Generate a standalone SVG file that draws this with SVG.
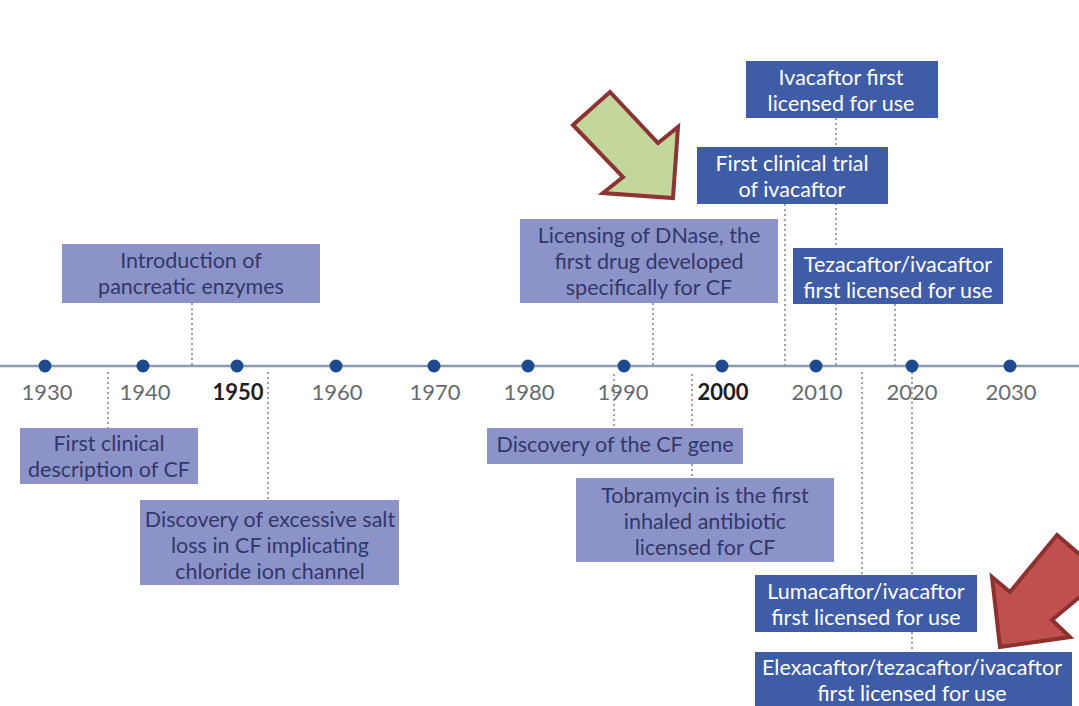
<svg xmlns="http://www.w3.org/2000/svg" width="1079" height="706" viewBox="0 0 1079 706">
<defs>
<style>
.bg{fill:#ffffff}
.axis{stroke:#8a9cb2;stroke-width:2.5}
.dot{fill:#1c4a8c}
.yr{font-family:Lato,"Liberation Sans",sans-serif;font-size:22px;fill:#666a70;text-anchor:middle}
.yrb{font-family:Lato,"Liberation Sans",sans-serif;font-size:22px;fill:#1e1e1e;font-weight:bold;text-anchor:middle}
.conn{stroke:#8a8a8a;stroke-width:1.6;stroke-dasharray:2 3;fill:none}
.lb{fill:#8c93c8}
.db{fill:#3f5ca7}
.lt{font-family:Lato,"Liberation Sans",sans-serif;font-size:21.5px;fill:#33376a;text-anchor:middle}
.dt{font-family:Lato,"Liberation Sans",sans-serif;font-size:21.5px;fill:#ffffff;text-anchor:middle}
.garrow{fill:#c3d69b;stroke:#8c3434;stroke-width:4;stroke-linejoin:miter}
.rarrow{fill:#c0504d;stroke:#8c3030;stroke-width:4;stroke-linejoin:miter}
</style>
</defs>
<rect class="bg" x="0" y="0" width="1079" height="706"/>

<g id="connectors">
<line class="conn" x1="192" y1="303" x2="192" y2="366"/>
<line class="conn" x1="108" y1="372" x2="108" y2="428"/>
<line class="conn" x1="268" y1="372" x2="268" y2="500"/>
<line class="conn" x1="653" y1="303" x2="653" y2="366"/>
<line class="conn" x1="614" y1="374" x2="614" y2="428"/>
<line class="conn" x1="692" y1="374" x2="692" y2="478"/>
<line class="conn" x1="785" y1="204" x2="785" y2="366"/>
<line class="conn" x1="836" y1="118" x2="836" y2="366"/>
<line class="conn" x1="895" y1="304" x2="895" y2="366"/>
<line class="conn" x1="862" y1="372" x2="862" y2="575"/>
<line class="conn" x1="912" y1="372" x2="912" y2="652"/>
</g>

<g id="timeline">
<line class="axis" x1="0" y1="366" x2="1079" y2="366"/>
<circle class="dot" cx="45" cy="366" r="6.5"/>
<circle class="dot" cx="143" cy="366" r="6.5"/>
<circle class="dot" cx="237" cy="366" r="6.5"/>
<circle class="dot" cx="336" cy="366" r="6.5"/>
<circle class="dot" cx="434" cy="366" r="6.5"/>
<circle class="dot" cx="528" cy="366" r="6.5"/>
<circle class="dot" cx="624" cy="366" r="6.5"/>
<circle class="dot" cx="722" cy="366" r="6.5"/>
<circle class="dot" cx="816" cy="366" r="6.5"/>
<circle class="dot" cx="912" cy="366" r="6.5"/>
<circle class="dot" cx="1010" cy="366" r="6.5"/>
<text class="yr" x="47" y="400">1930</text>
<text class="yr" x="145" y="400">1940</text>
<text class="yrb" x="238" y="400">1950</text>
<text class="yr" x="337" y="400">1960</text>
<text class="yr" x="435" y="400">1970</text>
<text class="yr" x="529" y="400">1980</text>
<text class="yr" x="623" y="400">1990</text>
<text class="yrb" x="723" y="400">2000</text>
<text class="yr" x="817" y="400">2010</text>
<text class="yr" x="912" y="400">2020</text>
<text class="yr" x="1011" y="400">2030</text>
</g>

<g id="n-pancreatic">
<rect class="lb" x="62" y="244" width="258" height="59"/>
<text class="lt" x="191" y="268">Introduction of</text>
<text class="lt" x="191" y="294">pancreatic enzymes</text>
</g>

<g id="n-first-description">
<rect class="lb" x="20" y="428" width="178" height="56"/>
<text class="lt" x="109" y="451">First clinical</text>
<text class="lt" x="109" y="477">description of CF</text>
</g>

<g id="n-salt-loss">
<rect class="lb" x="140" y="500" width="259" height="85"/>
<text class="lt" x="270" y="527">Discovery of excessive salt</text>
<text class="lt" x="270" y="553">loss in CF implicating</text>
<text class="lt" x="270" y="579">chloride ion channel</text>
</g>

<g id="n-dnase">
<rect class="lb" x="520" y="219" width="258" height="84"/>
<text class="lt" x="649" y="243">Licensing of DNase, the</text>
<text class="lt" x="649" y="269">first drug developed</text>
<text class="lt" x="649" y="295">specifically for CF</text>
</g>

<g id="n-cf-gene">
<rect class="lb" x="487" y="428" width="256" height="36"/>
<text class="lt" x="615" y="452">Discovery of the CF gene</text>
</g>

<g id="n-tobramycin">
<rect class="lb" x="576" y="478" width="258" height="84"/>
<text class="lt" x="705" y="503">Tobramycin is the first</text>
<text class="lt" x="705" y="529">inhaled antibiotic</text>
<text class="lt" x="705" y="555">licensed for CF</text>
</g>

<g id="n-ivacaftor-trial">
<rect class="db" x="697" y="147" width="191" height="57"/>
<text class="dt" x="792" y="171">First clinical trial</text>
<text class="dt" x="792" y="197">of ivacaftor</text>
</g>

<g id="n-ivacaftor-licensed">
<rect class="db" x="746" y="61" width="192" height="57"/>
<text class="dt" x="841" y="85">Ivacaftor first</text>
<text class="dt" x="841" y="111">licensed for use</text>
</g>

<g id="n-tezacaftor">
<rect class="db" x="793" y="248" width="210" height="56"/>
<text class="dt" x="898" y="272">Tezacaftor/ivacaftor</text>
<text class="dt" x="898" y="298">first licensed for use</text>
</g>

<g id="n-lumacaftor">
<rect class="db" x="755" y="575" width="222" height="57"/>
<text class="dt" x="866" y="599">Lumacaftor/ivacaftor</text>
<text class="dt" x="866" y="625">first licensed for use</text>
</g>

<g id="n-elexacaftor">
<rect class="db" x="755" y="652" width="317" height="60"/>
<text class="dt" x="912" y="675">Elexacaftor/tezacaftor/ivacaftor</text>
<text class="dt" x="912" y="701">first licensed for use</text>
</g>

<g id="green-arrow">
<polygon class="garrow" points="573,125 610,92 658,143 678,127 673,198 603,193 623,177"/>
</g>

<g id="red-arrow">
<polygon class="rarrow" points="1057,535 1100,572 1100,580 1052,620 1070,637 1000,647 992,577 1010,592"/>
</g>
</svg>
